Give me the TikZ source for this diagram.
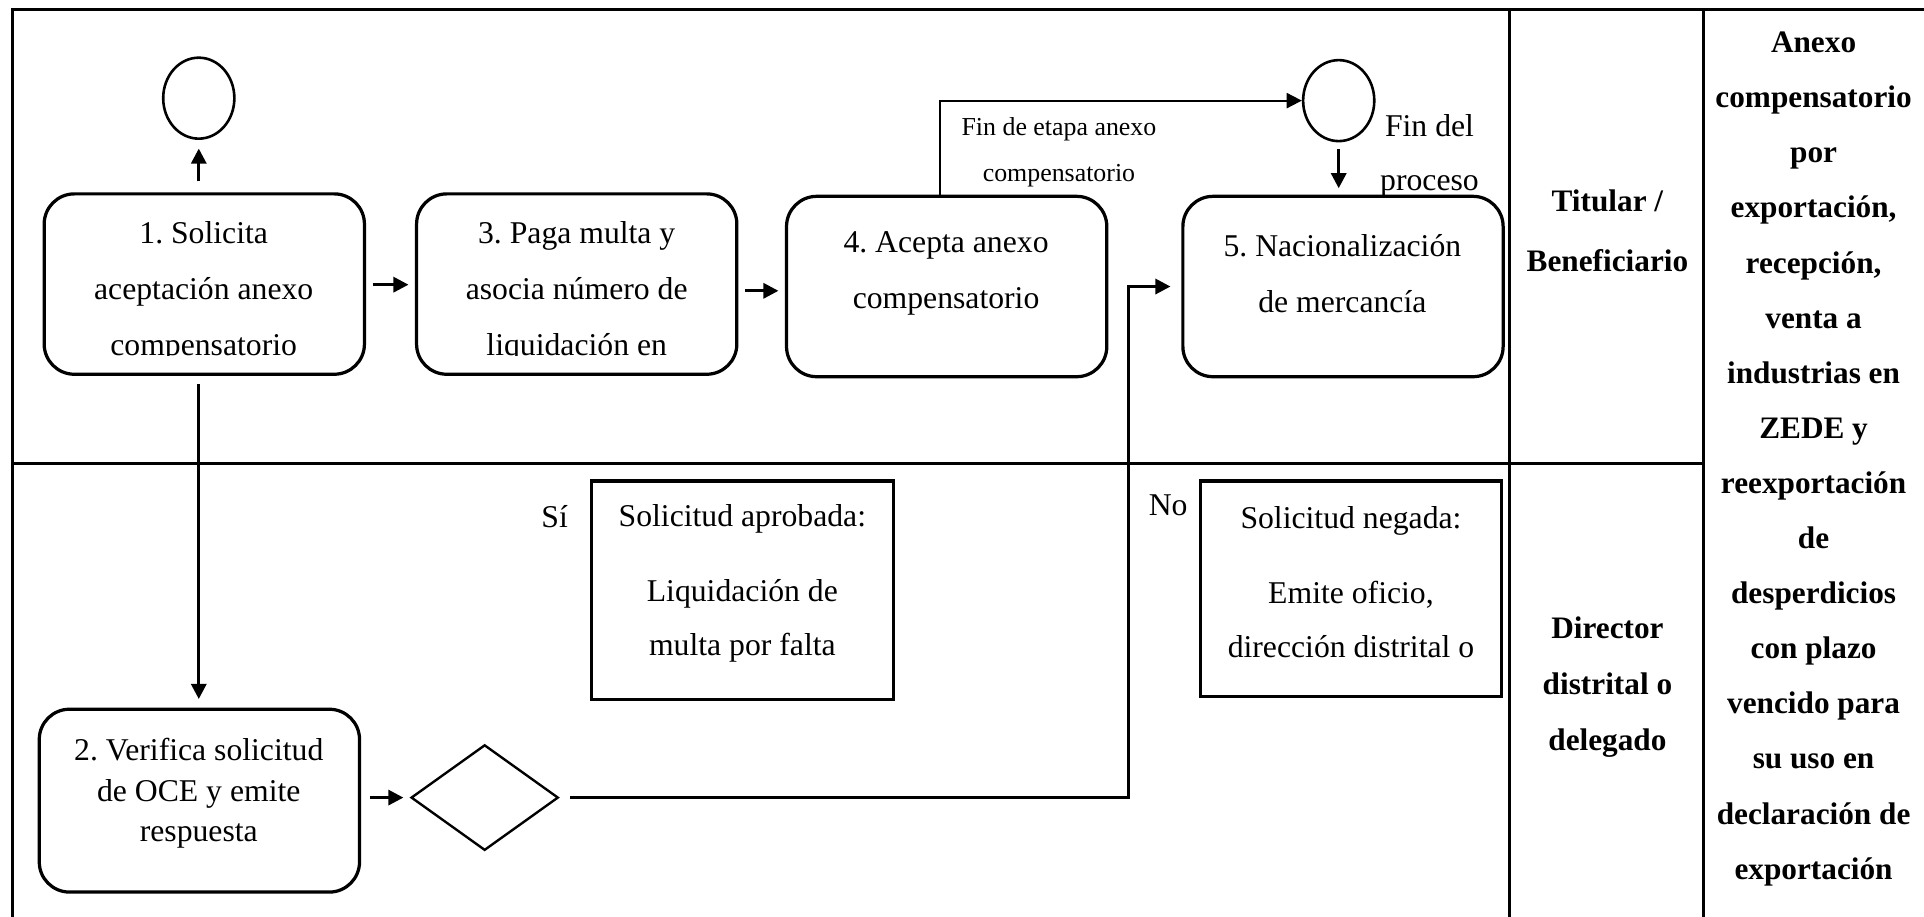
\documentclass[tikz,border=0pt]{standalone}
\usepackage{fontspec}
\setmainfont{Liberation Serif}
\frenchspacing
\usetikzlibrary{arrows.meta,shapes.geometric}

\tikzset{tarea/.style={draw, line width=1.5pt, rounded corners=14pt, minimum width=5.22cm, minimum height=2.94cm},
  nota/.style={draw, line width=1.4pt, minimum width=4.92cm, minimum height=3.56cm},
  evento/.style={draw, ellipse, line width=1.2pt, minimum width=1.16cm, minimum height=1.32cm, inner sep=0pt},
  txt/.style={align=center, font=\fontsize{14.7}{26}\selectfont},
  chico/.style={align=center, font=\fontsize{12}{21.5}\selectfont},
  carril/.style={align=center, font=\bfseries\fontsize{14.5}{27.8}\selectfont},
  flecha/.style={line width=1.4pt, -{Triangle[length=7pt,width=7pt]}}}

\begin{document}
\begin{tikzpicture}[x=0.2mm, y=-0.2mm]
  \useasboundingbox (0,0) rectangle (1568,747);
  \draw[line width=1.5pt] (10,747) -- (10,8) -- (1568,8);
  \draw[line width=1.5pt] (1230,8) -- (1230,747)  (1388,8) -- (1388,747)  (10,378) -- (1388,378);

  \node[evento] (inicio) at (162,80) {};
  \node[evento] (fin) at (1091,82) {};
  \node[tarea] (t1) at (166.5,231.5) {};
  \node[tarea] (t3) at (470,231.5) {};
  \node[tarea] (t4) at (771.5,233.5) {};
  \node[tarea] (t5) at (1094.5,233.5) {};
  \node[tarea, minimum height=2.98cm] (t2) at (162.5,652.5) {};
  \node[draw, diamond, line width=1.1pt, minimum width=2.4cm, minimum height=1.72cm, inner sep=0pt] (dec) at (395,650) {};
  \node[nota] (si) at (605,481) {};
  \node[nota, minimum height=3.52cm] (no) at (1101,480) {};

  \begin{scope}
    \clip (20,150) rectangle (620,290);
    \node[txt] (t1txt) at (166,238) {1. Solicita\\aceptación anexo\\compensatorio};
    \node[txt] (t3txt) at (470,238) {3. Paga multa y\\asocia número de\\liquidación en};
  \end{scope}
  \node[txt] (t4txt) at (771,223) {4. Acepta anexo\\compensatorio};
  \node[txt] (t5txt) at (1094,223) {5. Nacionalización\\de mercancía};
  \node[txt, font=\fontsize{14.7}{18.7}\selectfont] (t2txt) at (162,646.5) {2. Verifica solicitud\\de OCE y emite\\respuesta};
  \node[txt, font=\fontsize{14.7}{25}\selectfont] (sitxt) at (605,475.5) {Solicitud aprobada:\\[10pt]Liquidación de\\multa por falta};
  \node[txt, font=\fontsize{14.7}{25}\selectfont] (notxt) at (1101,474.5) {Solicitud negada:\\[10pt]Emite oficio,\\dirección distrital o};
  \node[txt] (lsi) at (452,421) {Sí};
  \node[txt] (lno) at (952,412) {No};
  \node[chico] (letapa) at (863,124) {Fin de etapa anexo\\compensatorio};
  \node[txt, font=\fontsize{14.7}{25}\selectfont] (lfin) at (1165,127) {Fin del\\proceso};

  \node[carril] (titular) at (1310,188) {Titular /\\Beneficiario};
  \node[carril, font=\bfseries\fontsize{14.5}{26}\selectfont] (director) at (1310,560) {Director\\distrital o\\delegado};
  \node[carril, font=\bfseries\fontsize{14.5}{25.55}\selectfont] (titulo) at (1478,374) {Anexo\\compensatorio\\por\\exportación,\\recepción,\\venta a\\industrias en\\ZEDE y\\reexportación\\de\\desperdicios\\con plazo\\vencido para\\su uso en\\declaración de\\exportación};

  \coordinate (codo) at (920,650);
  \draw[flecha, shorten <=5pt, shorten >=4pt] (t1.north -| inicio.south) -- (inicio.south);
  \draw[flecha, shorten <=3pt, shorten >=3pt] (t1.east |- 0,232) -- (t3.west |- 0,232);
  \draw[flecha, shorten <=3pt, shorten >=3pt] (t3.east |- 0,237) -- (t4.west |- 0,237);
  \draw[flecha, line width=0.9pt] (t4.north -| 766,0) |- (fin.west);
  \draw[flecha, shorten <=3pt, shorten >=3pt] (fin.south) -- (t5.north -| fin.south);
  \draw[flecha, shorten <=4pt, shorten >=4pt] (t1.south -| 162,0) -- (t2.north -| 162,0);
  \draw[flecha, shorten <=4pt, shorten >=3pt] (t2.east |- dec.west) -- (dec.west);
  \draw[flecha, shorten <=5pt, shorten >=5pt] (dec.east) -- (codo) |- (t5.west);
\end{tikzpicture}
\end{document}
